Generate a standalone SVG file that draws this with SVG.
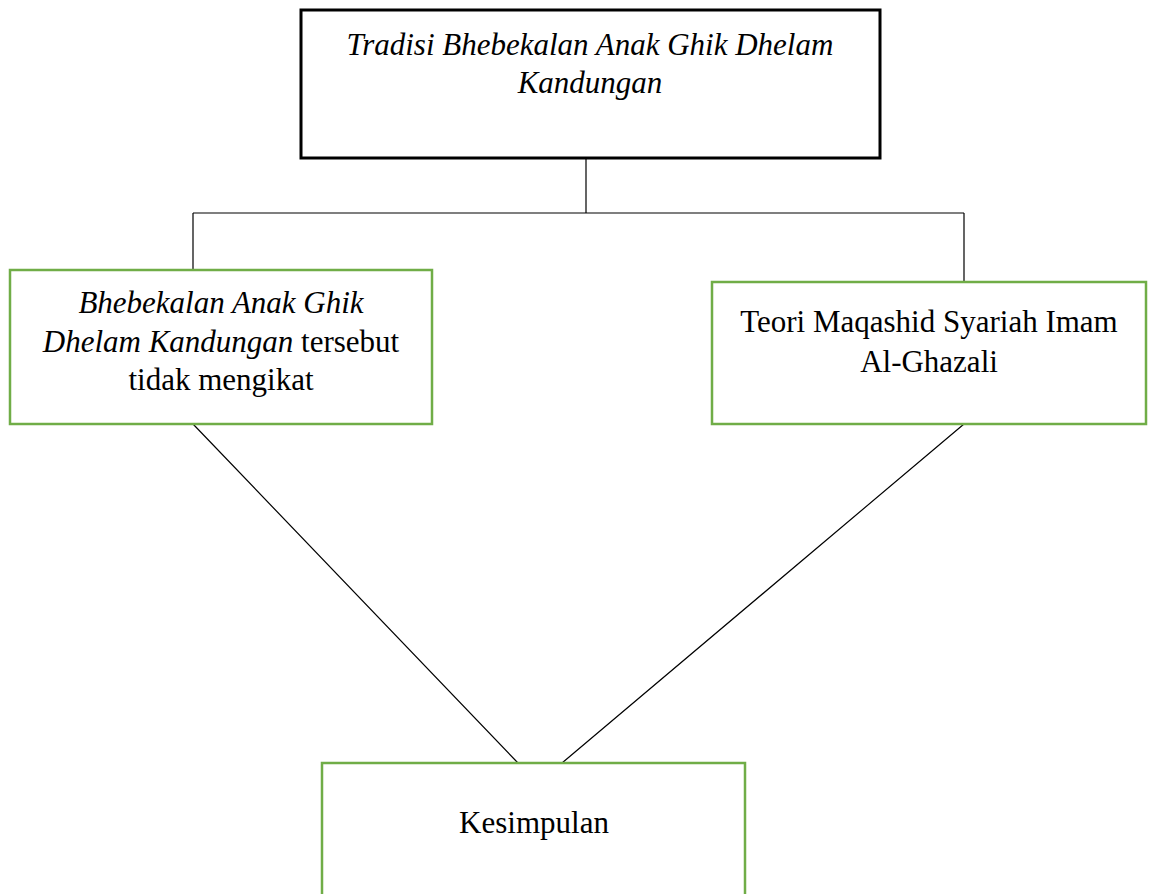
<svg xmlns="http://www.w3.org/2000/svg" width="1157" height="894" viewBox="0 0 1157 894">
<style>
.t{font-family:"Liberation Serif","Times New Roman",serif;font-size:31px;fill:#000;text-anchor:middle}
.i{font-style:italic}
.g{fill:#fff;stroke:#70AD47;stroke-width:2.5}
.c{stroke:#000;stroke-width:1.2;fill:none}
</style>
<rect width="1157" height="894" fill="#fff"/>
<g id="connectors">
<path class="c" d="M586 158V213M193 213H964M193 213V270M964 213V282"/>
<path class="c" d="M193 424L518 763M964 424L562 763"/>
</g>
<g id="top">
<rect x="301" y="10" width="579" height="148" fill="#fff" stroke="#000" stroke-width="3"/>
<text class="t i" x="590" y="55">Tradisi Bhebekalan Anak Ghik Dhelam</text>
<text class="t i" x="590" y="93">Kandungan</text>
</g>
<g id="left">
<rect class="g" x="10" y="270" width="422" height="154"/>
<text class="t" x="221" y="313"><tspan class="i">Bhebekalan Anak Ghik</tspan></text>
<text class="t" x="221" y="352"><tspan class="i">Dhelam Kandungan</tspan> tersebut</text>
<text class="t" x="221" y="390">tidak mengikat</text>
</g>
<g id="right">
<rect class="g" x="712" y="282" width="434" height="142"/>
<text class="t" x="929" y="332">Teori Maqashid Syariah Imam</text>
<text class="t" x="929" y="372">Al-Ghazali</text>
</g>
<g id="bottom">
<rect class="g" x="322" y="763" width="423" height="140"/>
<text class="t" x="534" y="833">Kesimpulan</text>
</g>
</svg>
